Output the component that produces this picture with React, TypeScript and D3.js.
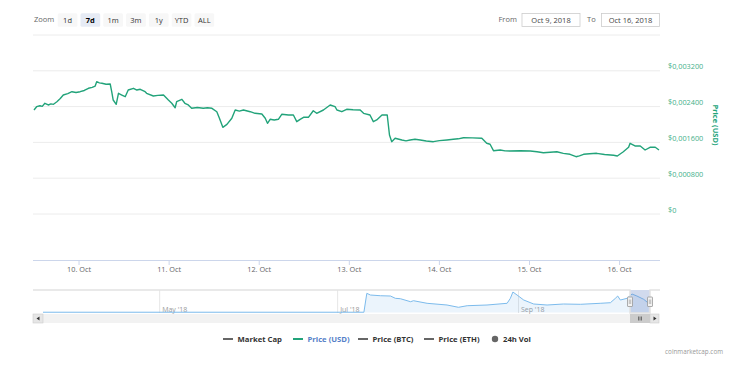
import React from "react";
import * as d3 from "d3";

// ---------- DATA ----------
const zoomButtons = ["1d", "7d", "1m", "3m", "1y", "YTD", "ALL"];
const selectedZoom = "7d";
const fromLabel = "Oct 9, 2018";
const toLabel = "Oct 16, 2018";

// hours since 2018-10-09 00:00 UTC
const priceHours = [
  12.0, 12.7, 13.6, 14.2, 14.9, 15.8, 16.5, 17.2, 18.1, 19.0,
  19.8, 21.0, 22.1, 23.2, 24.3, 25.4, 26.5, 27.5, 28.3, 28.7,
  29.4, 30.1, 31.2, 32.3, 32.7, 33.1, 33.9, 34.5, 35.4, 36.3,
  37.1, 38.5, 39.4, 40.3, 41.6, 42.0, 43.8, 45.0, 46.5, 47.8,
  48.7, 49.6, 50.0, 51.4, 52.2, 53.1, 54.0, 55.5, 57.1, 58.2,
  59.4, 60.7, 61.4, 62.3, 63.4, 64.7, 65.6, 66.7, 67.8, 69.6,
  70.9, 72.7, 73.6, 74.2, 74.9, 76.0, 77.1, 78.0, 79.8, 81.1,
  82.0, 82.9, 83.8, 85.1, 86.4, 87.3, 89.1, 90.9, 92.2, 92.7,
  94.0, 95.3, 97.0, 98.9, 99.8, 101.5, 102.4, 103.3, 104.7, 106.1,
  106.7, 107.3, 108.2, 110.0, 111.1, 112.2, 113.5, 114.9, 116.5, 118.4,
  120.0, 122.0, 123.7, 125.0, 126.4, 128.8, 131.3, 132.6, 133.5, 134.4,
  136.2, 137.5, 138.8, 141.5, 144.2, 146.0, 147.7, 149.5, 151.3, 153.0,
  154.8, 156.4, 157.3, 158.4, 160.0, 161.9, 164.0, 166.4, 167.4, 169.0,
  170.4, 170.8, 172.1, 173.5, 174.8, 176.1, 177.5, 178.5,
];
const priceUsd = [
  0.002324, 0.002398, 0.00242, 0.002405, 0.002474, 0.002436, 0.00246, 0.002451, 0.002509, 0.00258,
  0.002659, 0.00269, 0.002733, 0.002715, 0.002733, 0.00276, 0.002809, 0.00283, 0.00286, 0.002956,
  0.00293, 0.002921, 0.0029, 0.002905, 0.002733, 0.002547, 0.002451, 0.002697, 0.002659, 0.002621,
  0.002771, 0.002809, 0.00277, 0.002787, 0.002733, 0.002697, 0.002637, 0.00265, 0.002659, 0.002547,
  0.002474, 0.002375, 0.002509, 0.002563, 0.002474, 0.002436, 0.002362, 0.00238, 0.002362, 0.002375,
  0.002362, 0.002286, 0.002139, 0.001937, 0.002004, 0.002139, 0.002324, 0.0023, 0.002324, 0.002286,
  0.00225, 0.002235, 0.002139, 0.002027, 0.002116, 0.0021, 0.002116, 0.002228, 0.002212, 0.002212,
  0.002063, 0.002116, 0.002161, 0.002161, 0.002308, 0.00225, 0.002324, 0.002436, 0.002398, 0.002324,
  0.002286, 0.00234, 0.00233, 0.002324, 0.00225, 0.002212, 0.002063, 0.002101, 0.002212, 0.002212,
  0.001765, 0.001616, 0.001692, 0.001654, 0.001635, 0.001654, 0.00167, 0.001654, 0.00163, 0.001616,
  0.00164, 0.001654, 0.001669, 0.00168, 0.001705, 0.0017, 0.001692, 0.00158, 0.001558, 0.001415,
  0.00143, 0.00141, 0.001408, 0.001415, 0.001408, 0.00139, 0.00137, 0.00138, 0.001392, 0.001356,
  0.001334, 0.00128, 0.0013, 0.001334, 0.001345, 0.001356, 0.00133, 0.001312, 0.001296, 0.001392,
  0.001491, 0.00158, 0.00152, 0.00152, 0.00143, 0.001491, 0.001491, 0.00143,
];

const yTicks = [0, 0.0008, 0.0016, 0.0024, 0.0032, 0.004];
const yTickLabels = ["$0", "$0,000800", "$0,001600", "$0,002400", "$0,003200", ""];

// navigator (full history)
const navDates = [
  "2018-03-22T00:00Z", "2018-07-10T00:00Z", "2018-07-11T00:00Z", "2018-07-12T06:00Z", "2018-07-15T16:00Z",
  "2018-07-19T03:00Z", "2018-07-20T19:00Z", "2018-07-22T12:00Z", "2018-07-26T00:00Z", "2018-07-27T00:00Z",
  "2018-07-31T16:00Z", "2018-08-07T12:00Z", "2018-08-11T10:00Z", "2018-08-14T10:00Z", "2018-08-21T05:00Z",
  "2018-08-28T02:00Z", "2018-08-29T05:00Z", "2018-08-30T02:00Z", "2018-08-31T12:00Z", "2018-09-02T19:00Z",
  "2018-09-06T05:00Z", "2018-09-10T19:00Z", "2018-09-16T10:00Z", "2018-09-22T05:00Z", "2018-09-29T00:00Z",
  "2018-10-02T12:00Z", "2018-10-04T05:00Z", "2018-10-05T00:00Z", "2018-10-05T22:00Z", "2018-10-08T05:00Z",
  "2018-10-09T22:00Z", "2018-10-11T14:00Z", "2018-10-13T22:00Z", "2018-10-15T14:00Z",
];
const navPrice = [
  0.00001, 0.00001, 0.002527, 0.002301, 0.002208,
  0.002168, 0.001862, 0.001809, 0.00141, 0.001543,
  0.001197, 0.000971, 0.000665, 0.000878, 0.000971,
  0.001197, 0.001862, 0.0027, 0.002301, 0.001636,
  0.001104, 0.000971, 0.001104, 0.001064, 0.001197,
  0.001277, 0.001862, 0.002168, 0.001636, 0.001862,
  0.002434, 0.002168, 0.001729, 0.001197,
];
const navMonthTicks = ["2018-05-01T00:00Z", "2018-07-01T00:00Z", "2018-09-01T00:00Z"];
const navMonthLabels = ["May '18", "Jul '18", "Sep '18"];

const legendItems = [
  { name: "Market Cap", symbol: "line", color: "#666666", text: "#333333" },
  { name: "Price (USD)", symbol: "line", color: "#22a37a", text: "#5580c8" },
  { name: "Price (BTC)", symbol: "line", color: "#666666", text: "#333333" },
  { name: "Price (ETH)", symbol: "line", color: "#666666", text: "#333333" },
  { name: "24h Vol", symbol: "circle", color: "#666666", text: "#333333" },
];

// ---------- LAYOUT ----------
const W = 750;
const H = 366;
const FONT = "'Open Sans', 'DejaVu Sans', sans-serif";
const GREEN = "#22a37a";
const plotL = 34;
const plotR = 659;
const base = Date.UTC(2018, 9, 9);
const hourToDate = (h: number) => new Date(base + h * 3600e3);

export default function App() {
  const x = d3
    .scaleUtc()
    .domain([hourToDate(priceHours[0]), hourToDate(priceHours[priceHours.length - 1])])
    .range([plotL, plotR]);
  const y = d3.scaleLinear().domain([0, 0.004]).range([214, 35]);

  const pts: [Date, number][] = priceHours.map((h, i) => [hourToDate(h), priceUsd[i]]);
  const line = d3
    .line<[Date, number]>()
    .x((d) => x(d[0]))
    .y((d) => y(d[1]))
    .curve(d3.curveLinear);

  const xTicks = d3.utcDay.range(hourToDate(13), hourToDate(priceHours[priceHours.length - 1]));
  const fmt = d3.utcFormat("%-d. %b");

  // navigator
  const navX = d3
    .scaleUtc()
    .domain([new Date("2018-03-22T00:00Z"), new Date("2018-10-16T10:00Z")])
    .range([43, 651]);
  const navY = d3.scaleLinear().domain([0, 0.00297]).range([312.3, 290]);
  const navPts: [Date, number][] = navDates.map((d, i) => [new Date(d), navPrice[i]]);
  const navLine = d3
    .line<[Date, number]>()
    .x((d) => navX(d[0]))
    .y((d) => navY(d[1]));
  const navArea = d3
    .area<[Date, number]>()
    .x((d) => navX(d[0]))
    .y0(312.5)
    .y1((d) => navY(d[1]));
  const maskL = 630;
  const maskR = 650;
  const navTop = 290;
  const navBot = 313;

  const btnX0 = 57.7;
  const btnStep = 22.8;

  const legendX = [223, 293, 358, 424, 492];

  return (
    <svg width={W} height={H} style={{ position: "absolute", left: 0, top: 0, fontFamily: FONT }}>
      <rect width={W} height={H} fill="#ffffff" />

      {/* range selector */}
      <text x={34} y={22.3} fontSize={7.5} fill="#666">Zoom</text>
      {zoomButtons.map((b, i) => {
        const bx = btnX0 + i * btnStep;
        const sel = b === selectedZoom;
        return (
          <g key={b}>
            <rect x={bx} y={13.3} width={19.7} height={13.4} rx={1.5} fill={sel ? "#e6ebf5" : "#f7f7f7"} />
            <text
              x={bx + 9.85}
              y={22.5}
              fontSize={7.5}
              textAnchor="middle"
              fill={sel ? "#000" : "#333"}
              fontWeight={sel ? "bold" : "normal"}
            >
              {b}
            </text>
          </g>
        );
      })}
      <text x={498.5} y={22.3} fontSize={7.5} fill="#666">From</text>
      <rect x={522} y={13.5} width={58} height={13} fill="#fff" stroke="#cccccc" strokeWidth={0.8} />
      <text x={551} y={22.5} fontSize={7.5} textAnchor="middle" fill="#444">{fromLabel}</text>
      <text x={587} y={22.3} fontSize={7.5} fill="#666">To</text>
      <rect x={601.5} y={13.5} width={58} height={13} fill="#fff" stroke="#cccccc" strokeWidth={0.8} />
      <text x={630.5} y={22.5} fontSize={7.5} textAnchor="middle" fill="#444">{toLabel}</text>

      {/* grid */}
      {yTicks.map((t, i) => (
        <g key={t}>
          <line x1={plotL - 1} x2={plotR + 1} y1={y(t)} y2={y(t)} stroke="#ececec" strokeWidth={1} />
          {yTickLabels[i] && (
            <text x={668} y={y(t) - 1.5} fontSize={7.3} fill="#45b08a">
              {yTickLabels[i]}
            </text>
          )}
        </g>
      ))}
      <text
        transform={`translate(713,125) rotate(90)`}
        fontSize={7.5}
        fontWeight="bold"
        textAnchor="middle"
        fill={GREEN}
      >
        Price (USD)
      </text>

      {/* x axis */}
      <line x1={plotL - 1} x2={plotR + 1} y1={260.5} y2={260.5} stroke="#ccd6eb" strokeWidth={1} />
      {xTicks.map((t) => (
        <g key={+t}>
          <line x1={x(t)} x2={x(t)} y1={260.5} y2={265} stroke="#ccd6eb" strokeWidth={1} />
          <text x={x(t)} y={272} fontSize={7.3} textAnchor="middle" fill="#666">
            {fmt(t)}
          </text>
        </g>
      ))}

      {/* price line */}
      <path d={line(pts) || ""} fill="none" stroke={GREEN} strokeWidth={1.4} strokeLinejoin="round" />

      {/* navigator */}
      {navMonthTicks.map((d, i) => {
        const nx = navX(new Date(d));
        return (
          <g key={d}>
            <line x1={nx} x2={nx} y1={navTop} y2={navBot} stroke="#e6e6e6" strokeWidth={1} />
            <text x={nx + 2.5} y={311.5} fontSize={7} fill="#999">
              {navMonthLabels[i]}
            </text>
          </g>
        );
      })}
      <path d={navArea(navPts) || ""} fill="rgba(124,181,236,0.15)" />
      <path d={navLine(navPts) || ""} fill="none" stroke="#7cbbec" strokeWidth={1} />
      <rect x={maskL} y={navTop} width={maskR - maskL} height={navBot - navTop} fill="rgba(102,133,194,0.3)" />
      <path
        d={`M33,${navTop}L${maskL},${navTop}L${maskL},${navBot}L${maskR},${navBot}L${maskR},${navTop}L660,${navTop}`}
        fill="none"
        stroke="#e2e2e2"
        strokeWidth={1.5}
      />
      {[maskL, maskR].map((hx) => (
        <g key={hx}>
          <rect x={hx - 2.5} y={297} width={5} height={9.5} fill="#f2f2f2" stroke="#999" strokeWidth={0.8} rx={0.5} />
          <line x1={hx - 0.7} x2={hx - 0.7} y1={299.5} y2={304} stroke="#999" strokeWidth={0.6} />
          <line x1={hx + 0.7} x2={hx + 0.7} y1={299.5} y2={304} stroke="#999" strokeWidth={0.6} />
        </g>
      ))}

      {/* scrollbar */}
      <rect x={33} y={314} width={626} height={9} fill="#f2f2f2" />
      <rect x={33} y={314} width={10} height={9} fill="#e6e6e6" stroke="#cccccc" strokeWidth={0.6} />
      <path d="M39.5,316.5L36.5,318.5L39.5,320.5Z" fill="#333" />
      <rect x={650} y={314} width={9} height={9} fill="#e6e6e6" stroke="#cccccc" strokeWidth={0.6} />
      <path d="M653.5,316.5L656.5,318.5L653.5,320.5Z" fill="#333" />
      <rect x={maskL} y={314} width={maskR - maskL} height={9} fill="#cccccc" />
      {[-1.5, 0, 1.5].map((o) => (
        <line key={o} x1={640 + o} x2={640 + o} y1={316.5} y2={320.5} stroke="#333" strokeWidth={0.6} />
      ))}

      {/* legend */}
      {legendItems.map((it, i) => {
        const lx = legendX[i];
        return (
          <g key={it.name}>
            {it.symbol === "line" ? (
              <line x1={lx} x2={lx + 10} y1={339} y2={339} stroke={it.color} strokeWidth={2} />
            ) : (
              <circle cx={lx + 3} cy={339} r={3.2} fill={it.color} />
            )}
            <text x={lx + (it.symbol === "line" ? 14.5 : 11)} y={341.8} fontSize={7.7} fontWeight="bold" fill={it.text}>
              {it.name}
            </text>
          </g>
        );
      })}

      <text x={723} y={354} fontSize={6.3} textAnchor="end" fill="#999">
        coinmarketcap.com
      </text>
    </svg>
  );
}
